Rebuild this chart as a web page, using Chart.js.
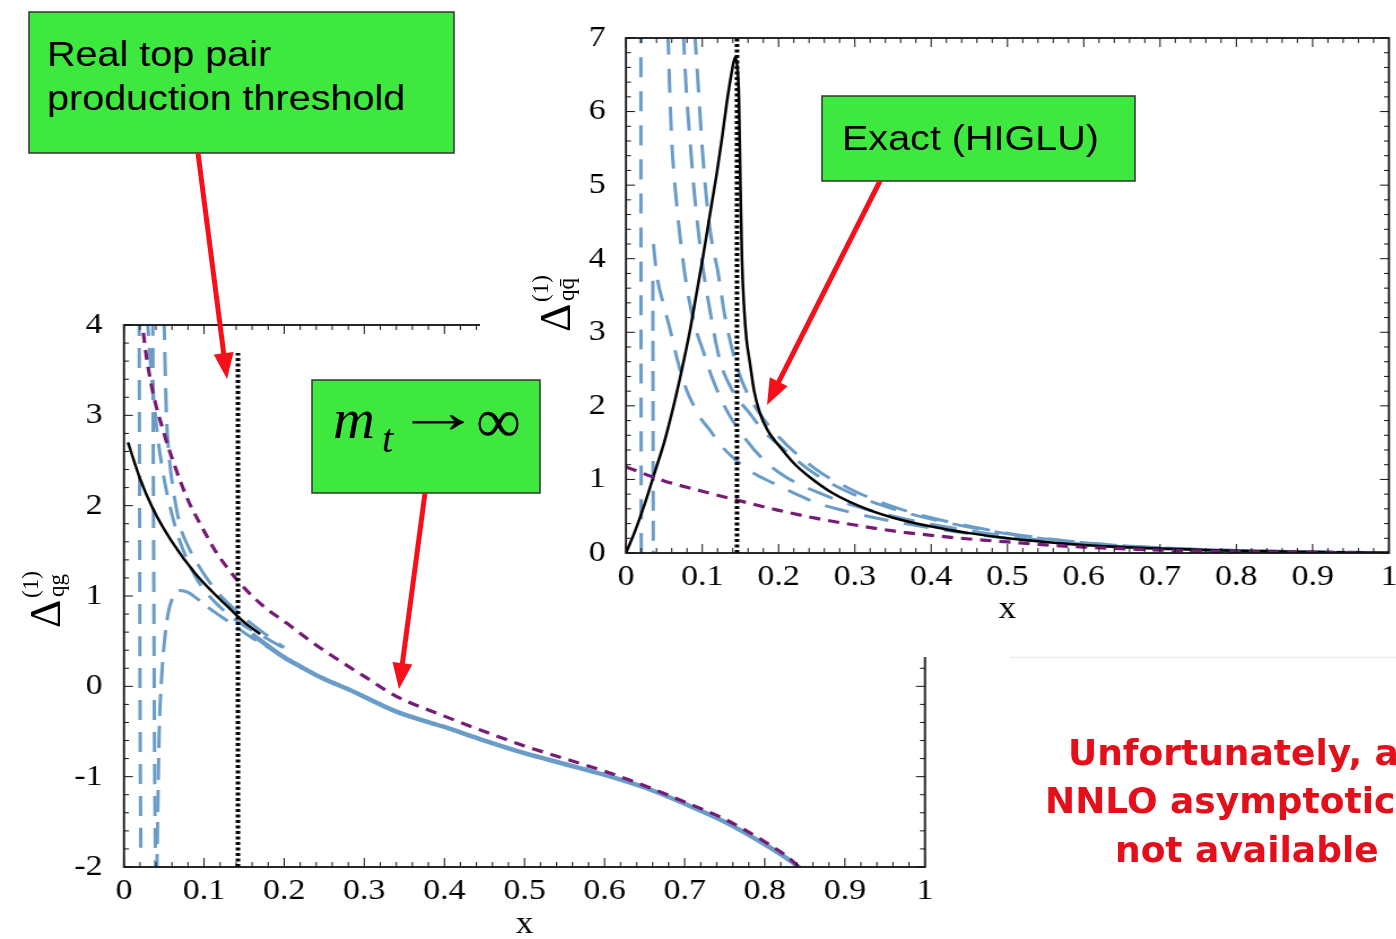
<!DOCTYPE html>
<html><head><meta charset="utf-8">
<script src="https://cdn.jsdelivr.net/npm/chart.js@4/dist/chart.umd.min.js"></script>
<style>
html,body{margin:0;padding:0;background:#fff;}
body{width:1396px;height:939px;overflow:hidden;position:relative;}
.wrap{position:absolute;transform-origin:0 0;transform:scaleX(1.13);}
#lw{left:0;top:300px;}
#rw{left:480px;top:0;}
#rc{background:#fff;display:block;}
#lc{display:block;}
#ov{position:absolute;left:0;top:0;}
</style></head><body>
<div class="wrap" id="lw"><canvas id="lc" width="850" height="645"></canvas></div>
<div class="wrap" id="rw"><canvas id="rc" width="811" height="657"></canvas></div>
<svg id="ov" width="1396" height="939" xmlns="http://www.w3.org/2000/svg">
  <line x1="1010" y1="657.5" x2="1396" y2="657.5" stroke="#ececec" stroke-width="1.5"/>
  <rect x="29" y="12" width="425" height="141" fill="#3fe83f" stroke="#333" stroke-width="1.5"/>
  <text transform="translate(47,66) scale(1.13,1)" font-family="Liberation Sans" font-size="35" fill="#000">Real top pair</text>
  <text transform="translate(47,110) scale(1.13,1)" font-family="Liberation Sans" font-size="35" fill="#000">production threshold</text>
  <rect x="822" y="96" width="313" height="85" fill="#3fe83f" stroke="#333" stroke-width="1.5"/>
  <text transform="translate(842,150) scale(1.13,1)" font-family="Liberation Sans" font-size="35" fill="#000">Exact (HIGLU)</text>
  <rect x="312" y="380" width="228" height="113" fill="#3fe83f" stroke="#333" stroke-width="1.5"/>
  <text x="333" y="438" font-family="Liberation Serif" font-style="italic" font-size="58" fill="#000">m</text>
  <text x="382" y="452" font-family="Liberation Serif" font-style="italic" font-size="40" fill="#000">t</text>
  <text transform="translate(395,432) scale(1.45,1)" font-family="Liberation Serif" font-size="60" fill="#000">→</text>
  <text x="476" y="442" font-family="Liberation Serif" font-size="63" fill="#000">∞</text>
  <g id="arrows"></g>
  <g font-family="DejaVu Sans" font-weight="bold" font-size="36" fill="#e3101b">
    <text x="1068" y="765">Unfortunately, a</text>
    <text x="1045" y="813">NNLO asymptotic</text>
    <text x="1115" y="862">not available</text>
  </g>
  <g transform="translate(60,628) rotate(-90)" font-family="Liberation Serif" fill="#000">
    <text x="0" y="0" font-size="44">Δ</text>
    <text x="30" y="-22" font-size="23">(1)</text>
    <text x="31" y="4" font-size="23">qg</text>
  </g>
  <g transform="translate(570,332) rotate(-90)" font-family="Liberation Serif" fill="#000">
    <text x="0" y="0" font-size="44">Δ</text>
    <text x="30" y="-22" font-size="23">(1)</text>
    <text x="31" y="4" font-size="23">qq̄</text>
  </g>
</svg>
<script>
// ---------------- tick labels ----------------
const xTickLabels = ['0','0.1','0.2','0.3','0.4','0.5','0.6','0.7','0.8','0.9','1'];
const leftYTickLabels = ['-2','-1','0','1','2','3','4'];
const rightYTickLabels = ['0','1','2','3','4','5','6','7'];

// ---------------- LEFT panel: Delta_qg ----------------
const leftExactX = [0.005, 0.02, 0.036, 0.06, 0.089, 0.11, 0.132, 0.15, 0.17];
const leftExactY = [2.70, 2.30, 1.97, 1.60, 1.25, 1.05, 0.86, 0.71, 0.58];

const leftInfX = [0.022, 0.026, 0.035, 0.05, 0.065, 0.08, 0.1, 0.114, 0.145, 0.175, 0.203, 0.23, 0.261, 0.3, 0.34, 0.4, 0.45, 0.5, 0.55, 0.6, 0.65, 0.7, 0.75, 0.8, 0.83, 0.845];
const leftInfY = [4.1, 3.78, 3.3, 2.8, 2.4, 2.06, 1.72, 1.5, 1.14, 0.88, 0.70, 0.52, 0.33, 0.11, -0.11, -0.33, -0.5, -0.66, -0.8, -0.94, -1.1, -1.28, -1.47, -1.72, -1.9, -2.02];

const leftExpX = [0.16, 0.17, 0.2, 0.22, 0.25, 0.282, 0.34, 0.4, 0.45, 0.5, 0.55, 0.6, 0.65, 0.7, 0.75, 0.8, 0.83, 0.845];
const leftExpY = [0.58, 0.51, 0.32, 0.22, 0.08, -0.04, -0.28, -0.45, -0.6, -0.74, -0.86, -0.98, -1.12, -1.3, -1.5, -1.75, -1.92, -2.02];

const leftA_X = [0.019, 0.0195, 0.02, 0.021];
const leftA_Y = [4.1, 2.0, 0.0, -1.82];
const leftB_X = [0.036, 0.0366, 0.0373, 0.038, 0.0395];
const leftB_Y = [4.1, 2.5, 1.0, -0.5, -2.1];
const leftC_X = [0.041, 0.042, 0.044, 0.047, 0.05, 0.055, 0.062, 0.07, 0.08, 0.09, 0.107, 0.13, 0.161, 0.19];
const leftC_Y = [-2.1, -1.5, -0.5, 0.1, 0.45, 0.8, 1.0, 1.06, 1.04, 0.98, 0.86, 0.72, 0.53, 0.38];
const leftD_X = [0.029, 0.033, 0.038, 0.043, 0.05, 0.06, 0.07, 0.08, 0.09, 0.1, 0.115, 0.13, 0.15, 0.17, 0.2];
const leftD_Y = [4.1, 3.6, 3.1, 2.7, 2.3, 1.9, 1.6, 1.38, 1.2, 1.07, 0.92, 0.8, 0.67, 0.57, 0.42];
const leftE_X = [0.05, 0.0515, 0.053, 0.056, 0.062, 0.07, 0.08, 0.089, 0.1, 0.115, 0.13, 0.15, 0.17, 0.2];
const leftE_Y = [4.1, 3.5, 3.0, 2.58, 2.15, 1.78, 1.55, 1.40, 1.24, 1.06, 0.92, 0.76, 0.62, 0.43];

const leftThrX = [0.1423, 0.1423];
const leftThrY = [-2, 3.69];

// ---------------- RIGHT panel: Delta_qqbar ----------------
const rightExactX = [0, 0.012, 0.025, 0.04, 0.05, 0.062, 0.073, 0.084, 0.092, 0.101, 0.11, 0.119, 0.126, 0.132, 0.138, 0.143, 0.146, 0.148, 0.15, 0.152, 0.155, 0.158, 0.1625, 0.168, 0.1756, 0.185, 0.202, 0.22, 0.241, 0.27, 0.315, 0.35, 0.4, 0.45, 0.5, 0.55, 0.6, 0.7, 0.8, 0.9, 1.0];
const rightExactY = [0, 0.3, 0.68, 1.17, 1.5, 1.98, 2.48, 3.03, 3.5, 4.03, 4.6, 5.16, 5.65, 6.11, 6.5, 6.74, 6.6, 6.2, 5.0, 4.0, 3.3, 2.9, 2.58, 2.2, 1.9, 1.68, 1.44, 1.22, 1.03, 0.82, 0.6, 0.48, 0.36, 0.27, 0.2, 0.15, 0.11, 0.06, 0.03, 0.012, 0.003];

const rightInfX = [0, 0.05, 0.1, 0.145, 0.2, 0.25, 0.3, 0.35, 0.4, 0.45, 0.5, 0.55, 0.6, 0.7, 0.8, 0.9, 1.0];
const rightInfY = [1.17, 0.98, 0.84, 0.72, 0.58, 0.47, 0.38, 0.3, 0.24, 0.19, 0.15, 0.11, 0.08, 0.04, 0.02, 0.01, 0.0];

const rightA_X = [0.0195, 0.0197, 0.02];
const rightA_Y = [7.2, 3.5, 0];
const rightB_X = [0.0352, 0.0355, 0.0358];
const rightB_Y = [3.7, 1.8, 0];
const rightC_X = [0.036, 0.04, 0.05, 0.058, 0.068, 0.08, 0.09, 0.1, 0.11, 0.123, 0.14, 0.165, 0.193, 0.219, 0.25, 0.3, 0.35, 0.4, 0.5, 0.6, 0.7, 0.8, 0.9, 1.0];
const rightC_Y = [4.2, 3.8, 3.35, 3.03, 2.6, 2.2, 1.98, 1.8, 1.67, 1.48, 1.3, 1.1, 0.95, 0.82, 0.68, 0.54, 0.43, 0.34, 0.2, 0.11, 0.06, 0.03, 0.015, 0.005];
const rightD_X = [0.055, 0.057, 0.06, 0.065, 0.072, 0.08, 0.09, 0.101, 0.114, 0.132, 0.153, 0.18, 0.21, 0.25, 0.3, 0.35, 0.4, 0.5, 0.6, 0.7, 0.8, 0.9, 1.0];
const rightD_Y = [7.1, 6.4, 5.6, 4.9, 4.2, 3.6, 3.1, 2.75, 2.35, 1.94, 1.6, 1.27, 1.03, 0.83, 0.64, 0.5, 0.39, 0.23, 0.12, 0.06, 0.03, 0.012, 0.004];
const rightE_X = [0.075, 0.079, 0.084, 0.09, 0.1, 0.11, 0.123, 0.14, 0.162, 0.18, 0.2, 0.25, 0.3, 0.35, 0.4, 0.5, 0.6, 0.7, 0.8, 0.9, 1.0];
const rightE_Y = [7.1, 6.3, 5.6, 4.85, 3.94, 3.3, 2.62, 2.2, 1.9, 1.66, 1.47, 1.06, 0.79, 0.6, 0.46, 0.26, 0.14, 0.07, 0.035, 0.015, 0.005];
const rightF_X = [0.09, 0.095, 0.1, 0.107, 0.113, 0.12, 0.13, 0.145, 0.16, 0.175, 0.2, 0.25, 0.3, 0.35, 0.4, 0.5, 0.6, 0.7, 0.8, 0.9, 1.0];
const rightF_Y = [7.1, 6.3, 5.5, 4.66, 4.2, 3.85, 3.2, 2.55, 2.15, 1.9, 1.58, 1.13, 0.84, 0.63, 0.48, 0.27, 0.14, 0.07, 0.035, 0.015, 0.005];

const rightThrX = [0.1455, 0.1455];
const rightThrY = [0, 7];

// ---------------- styling ----------------
const BLUE = '#6a9cc8', PURPLE = '#751a75', BLACK = '#000';
const SX = 1.13;

const pts = (xs, ys) => xs.map((x, i) => ({x: x, y: ys[i]}));
function ds(xs, ys, color, width, dash, order, straight) {
  return {
    data: pts(xs, ys), showLine: true, pointRadius: 0, borderColor: color,
    borderWidth: width, borderDash: dash, order: order, fill: false,
    cubicInterpolationMode: straight ? 'default' : 'monotone', tension: 0,
    borderCapStyle: 'butt'
  };
}

const frameTicks = {
  id: 'frameTicks',
  afterDatasetsDraw(chart, args, o) {
    const {ctx, chartArea: a} = chart;
    const xs = chart.scales.x, ys = chart.scales.y;
    ctx.save();
    ctx.strokeStyle = '#111';
    ctx.lineWidth = 1;
    ctx.beginPath();
    const nx = Math.round((xs.max - xs.min) / o.xMinor);
    for (let i = 0; i <= nx; i++) {
      const p = xs.getPixelForValue(xs.min + i * o.xMinor);
      const L = (i % o.xEvery === 0) ? o.major : o.minor;
      ctx.moveTo(p, a.bottom); ctx.lineTo(p, a.bottom - L);
      ctx.moveTo(p, a.top); ctx.lineTo(p, a.top + L);
    }
    const ny = Math.round((ys.max - ys.min) / o.yMinor);
    for (let j = 0; j <= ny; j++) {
      const p = ys.getPixelForValue(ys.min + j * o.yMinor);
      const L = ((j % o.yEvery === 0) ? o.major : o.minor) / SX;
      ctx.moveTo(a.left, p); ctx.lineTo(a.left + L, p);
      ctx.moveTo(a.right, p); ctx.lineTo(a.right - L, p);
    }
    ctx.stroke();
    ctx.lineWidth = 1.8;
    ctx.strokeRect(a.left, a.top, a.right - a.left, a.bottom - a.top);
    ctx.restore();
  }
};

function makeOptions(p) {
  return {
    responsive: false, animation: false, devicePixelRatio: 1, events: [],
    layout: {padding: {left: 0, right: p.padRight, top: p.padTop, bottom: 0}},
    plugins: {legend: {display: false}, tooltip: {enabled: false},
      frameTicks: {xMinor: 0.02, xEvery: 5, yMinor: 0.2, yEvery: 5, major: 9, minor: 5}},
    scales: {
      x: {
        type: 'linear', min: 0, max: 1, position: 'bottom',
        grid: {display: false, drawTicks: false}, border: {display: false},
        ticks: {stepSize: 0.1, autoSkip: false, maxRotation: 0, minRotation: 0, padding: p.xPad,
          color: '#000', font: {family: 'Liberation Serif', size: 30},
          callback: (v, i) => xTickLabels[i]},
        title: {display: true, text: 'x', color: '#000',
          font: {family: 'Liberation Serif', size: 31}, padding: {top: 0, bottom: p.titlePad}},
        afterFit(s) { s.height = p.xH; s.paddingLeft = 0; s.paddingRight = 0; }
      },
      y: {
        type: 'linear', min: p.ymin, max: p.ymax, position: 'left',
        grid: {display: false, drawTicks: false}, border: {display: false},
        ticks: {stepSize: 1, autoSkip: false, padding: p.yPad, color: '#000',
          font: {family: 'Liberation Serif', size: 30},
          callback: (v, i) => p.yLabels[i]},
        afterFit(s) { s.width = p.yW; s.paddingTop = 0; s.paddingBottom = 0; }
      }
    }
  };
}

new Chart(document.getElementById('lc'), {
  type: 'scatter',
  data: {datasets: [
    ds(leftThrX, leftThrY, BLACK, 4, [3, 2.5], 0, true),
    ds(leftInfX, leftInfY, PURPLE, 3.2, [10, 7], 1),
    ds(leftExactX, leftExactY, BLACK, 2.5, [], 2),
    ds(leftExpX, leftExpY, BLUE, 4.5, [], 3),
    ds(leftA_X, leftA_Y, BLUE, 3, [20, 12], 4),
    ds(leftB_X, leftB_Y, BLUE, 3, [20, 12], 4),
    ds(leftC_X, leftC_Y, BLUE, 3, [22, 10], 4),
    ds(leftD_X, leftD_Y, BLUE, 3, [20, 12], 4),
    ds(leftE_X, leftE_Y, BLUE, 3, [24, 12], 4)
  ]},
  options: makeOptions({padRight: 31.4, padTop: 25, xH: 78, yW: 109.7, xPad: 6, yPad: 19,
    titlePad: 2, ymin: -2, ymax: 4, yLabels: leftYTickLabels}),
  plugins: [frameTicks]
});

new Chart(document.getElementById('rc'), {
  type: 'scatter',
  data: {datasets: [
    ds(rightThrX, rightThrY, BLACK, 4, [3, 2.5], 0, true),
    ds(rightInfX, rightInfY, PURPLE, 3.2, [10, 7], 1),
    ds(rightExactX, rightExactY, BLACK, 2.5, [], 2),
    ds(rightA_X, rightA_Y, BLUE, 3, [20, 14], 4),
    ds(rightB_X, rightB_Y, BLUE, 3, [20, 10], 4),
    ds(rightC_X, rightC_Y, BLUE, 3, [22, 14], 4),
    ds(rightD_X, rightD_Y, BLUE, 3, [24, 14], 4),
    ds(rightE_X, rightE_Y, BLUE, 3, [24, 14], 4),
    ds(rightF_X, rightF_Y, BLUE, 3, [24, 14], 4)
  ]},
  options: makeOptions({padRight: 6.6, padTop: 38, xH: 104, yW: 129.2, xPad: 6, yPad: 18,
    titlePad: 29, ymin: 0, ymax: 7, yLabels: rightYTickLabels}),
  plugins: [frameTicks]
});

// ---------------- red annotation arrows ----------------
function arrow(x1, y1, x2, y2) {
  const g = document.getElementById('arrows');
  const dx = x2 - x1, dy = y2 - y1, L = Math.hypot(dx, dy), ux = dx / L, uy = dy / L;
  const hl = 26, hw = 10;
  const bx = x2 - ux * hl, by = y2 - uy * hl;
  const ns = 'http://www.w3.org/2000/svg';
  const ln = document.createElementNS(ns, 'line');
  ln.setAttribute('x1', x1); ln.setAttribute('y1', y1);
  ln.setAttribute('x2', bx + ux * 2); ln.setAttribute('y2', by + uy * 2);
  ln.setAttribute('stroke', '#f5101a'); ln.setAttribute('stroke-width', 5);
  g.appendChild(ln);
  const pg = document.createElementNS(ns, 'polygon');
  pg.setAttribute('points', `${x2},${y2} ${bx - uy * hw},${by + ux * hw} ${bx + uy * hw},${by - ux * hw}`);
  pg.setAttribute('fill', '#f5101a');
  g.appendChild(pg);
}
arrow(198, 153, 227, 379);
arrow(425, 493, 399, 689);
arrow(880, 181, 767, 405);
</script>
</body></html>
